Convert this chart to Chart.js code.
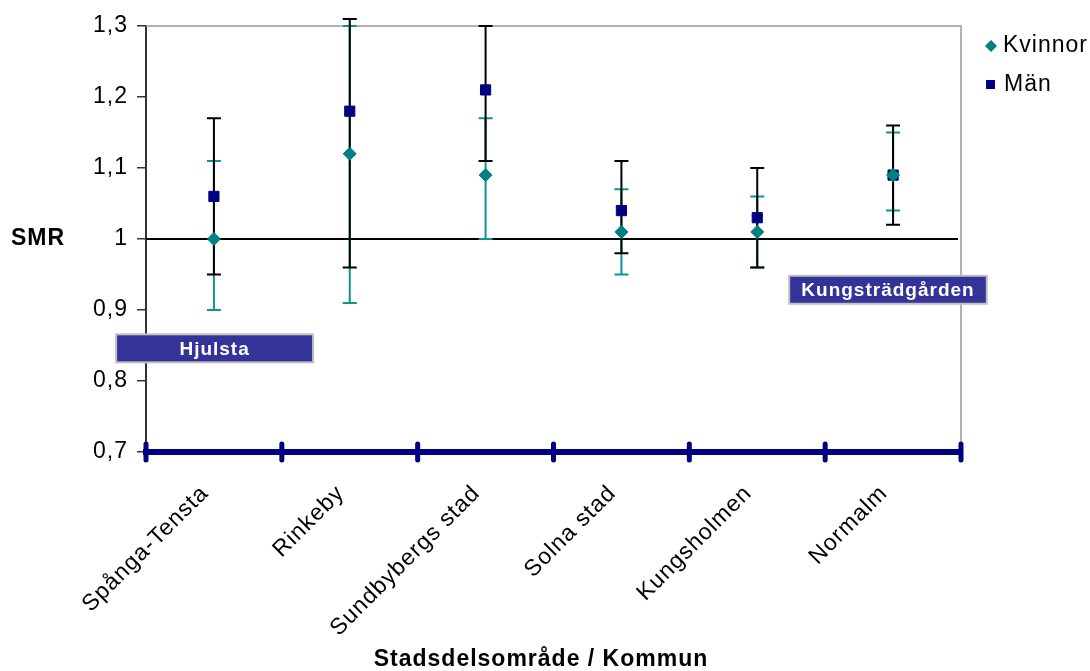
<!DOCTYPE html>
<html lang="sv">
<head>
<meta charset="UTF-8">
<style>
  html, body { margin: 0; padding: 0; background: #fff; }
</style>
</head>
<body>
<canvas id="smr-chart" width="1090" height="671"></canvas>
<script src="https://cdn.jsdelivr.net/npm/chart.js@4.4.0/dist/chart.umd.min.js"></script>
<script>
    // SMR per stadsdel / kommun, with confidence intervals
    const categories = ['Spånga-Tensta', 'Rinkeby', 'Sundbybergs stad', 'Solna stad', 'Kungsholmen', 'Normalm'];
    const kvinnor     = [1.00, 1.12, 1.09, 1.01, 1.01, 1.09];
    const kvinnorLow  = [0.90, 0.91, 1.00, 0.95, 0.96, 1.04];
    const kvinnorHigh = [1.11, 1.30, 1.17, 1.07, 1.06, 1.15];
    const man         = [1.06, 1.18, 1.21, 1.04, 1.03, 1.09];
    const manLow      = [0.95, 0.96, 1.11, 0.98, 0.96, 1.02];
    const manHigh     = [1.17, 1.31, 1.30, 1.11, 1.10, 1.16];
    const yTicks      = [0.7, 0.8, 0.9, 1.0, 1.1, 1.2, 1.3];

    const TEAL = '#008080';
    const TEAL_BAR = '#0c9494';
    const NAVY = '#000080';
    const FONT = '"Liberation Sans", Arial, sans-serif';
    const SPACING = '1px';

    Chart.defaults.font.family = FONT;
    Chart.defaults.font.size = 23;
    Chart.defaults.color = '#000';

    // excel-ish wide text
    const spacing = {
        id: 'spacing',
        beforeUpdate(chart) { chart.ctx.letterSpacing = SPACING; },
        beforeLayout(chart) { chart.ctx.letterSpacing = SPACING; },
        beforeDraw(chart) { chart.ctx.letterSpacing = SPACING; }
    };

    const errorBars = {
        id: 'errorBars',
        beforeDatasetsDraw(chart) {
            const {ctx, chartArea: a, scales: {x, y}} = chart;
            ctx.save();
            // grey frame top/right
            ctx.strokeStyle = '#999';
            ctx.lineWidth = 1.5;
            ctx.beginPath();
            ctx.moveTo(a.left, a.top); ctx.lineTo(a.right, a.top); ctx.lineTo(a.right, a.bottom);
            ctx.stroke();
            // reference line SMR = 1
            ctx.strokeStyle = '#000';
            ctx.lineWidth = 2;
            const y1 = y.getPixelForValue(1);
            ctx.beginPath();
            ctx.moveTo(a.left, y1); ctx.lineTo(a.right - 3, y1);
            ctx.stroke();

            function bars(low, high, color) {
                ctx.strokeStyle = color;
                ctx.lineWidth = 2;
                low.forEach((lo, i) => {
                    const px = x.getPixelForValue(i);
                    const pLo = y.getPixelForValue(lo);
                    const pHi = y.getPixelForValue(high[i]);
                    ctx.beginPath();
                    ctx.moveTo(px, pLo); ctx.lineTo(px, pHi);
                    ctx.moveTo(px - 7, pLo); ctx.lineTo(px + 7, pLo);
                    ctx.moveTo(px - 7, pHi); ctx.lineTo(px + 7, pHi);
                    ctx.stroke();
                });
            }
            bars(kvinnorLow, kvinnorHigh, TEAL_BAR);
            bars(manLow, manHigh, '#000');
            ctx.restore();
        },
        afterDraw(chart) {
            const {ctx, chartArea: a, scales: {x, y}} = chart;
            const cw = (a.right - a.left) / categories.length;
            ctx.save();
            ctx.letterSpacing = SPACING;

            // thick tick marks on the x axis
            ctx.strokeStyle = NAVY;
            ctx.lineWidth = 5;
            ctx.lineCap = 'round';
            for (let i = 0; i <= categories.length; i++) {
                const px = a.left + i * cw;
                ctx.beginPath();
                ctx.moveTo(px, a.bottom - 8); ctx.lineTo(px, a.bottom + 8);
                ctx.stroke();
            }

            // area labels
            const boxes = [
                {text: 'Hjulsta', from: -0.72, to: 0.73, at: 0.846},
                {text: 'Kungsträdgården', from: 4.235, to: 5.69, at: 0.9285}
            ];
            boxes.forEach(b => {
                const x0 = x.getPixelForValue(0) + b.from * cw;
                const x1 = x.getPixelForValue(0) + b.to * cw;
                const yc = y.getPixelForValue(b.at);
                ctx.fillStyle = '#333399';
                ctx.strokeStyle = '#c0c0c0';
                ctx.lineWidth = 2;
                ctx.fillRect(x0, yc - 14, x1 - x0, 28);
                ctx.strokeRect(x0, yc - 14, x1 - x0, 28);
                ctx.fillStyle = '#fff';
                ctx.font = 'bold 19px ' + FONT;
                ctx.textAlign = 'center';
                ctx.textBaseline = 'middle';
                ctx.fillText(b.text, (x0 + x1) / 2, yc + 1);
            });

            // axis titles
            ctx.fillStyle = '#000';
            ctx.font = 'bold 23px ' + FONT;
            ctx.textAlign = 'left';
            ctx.textBaseline = 'middle';
            ctx.fillText('SMR', 11, y.getPixelForValue(1));
            ctx.textAlign = 'center';
            ctx.fillText('Stadsdelsområde / Kommun', 541, 660);

            // legend
            ctx.textAlign = 'left';
            ctx.font = '23px ' + FONT;
            ctx.fillStyle = TEAL;
            ctx.beginPath();
            ctx.moveTo(991, 40); ctx.lineTo(997, 46); ctx.lineTo(991, 52); ctx.lineTo(985, 46);
            ctx.closePath();
            ctx.fill();
            ctx.fillStyle = '#000';
            ctx.fillText('Kvinnor', 1003, 46);
            ctx.fillStyle = NAVY;
            ctx.fillRect(986, 80, 9, 9);
            ctx.fillStyle = '#000';
            ctx.fillText('Män', 1004, 85);
            ctx.restore();
        }
    };

    new Chart(document.getElementById('smr-chart'), {
        type: 'line',
        data: {
            labels: categories,
            datasets: [
                {
                    label: 'Kvinnor',
                    data: kvinnor,
                    showLine: false,
                    pointStyle: 'rectRot',
                    pointRadius: 6.5,
                    pointBackgroundColor: TEAL,
                    pointBorderColor: TEAL,
                    pointBorderWidth: 1,
                    clip: false
                },
                {
                    label: 'Män',
                    data: man,
                    showLine: false,
                    pointStyle: 'rect',
                    pointRadius: 7.2,
                    pointBackgroundColor: NAVY,
                    pointBorderColor: NAVY,
                    pointBorderWidth: 1,
                    clip: false
                }
            ]
        },
        options: {
            responsive: false,
            animation: false,
            events: [],
            layout: { padding: { left: 90, right: 129, top: 26, bottom: 0 } },
            plugins: {
                legend: { display: false },
                tooltip: { enabled: false }
            },
            scales: {
                x: {
                    offset: true,
                    grid: { display: true, drawOnChartArea: false, drawTicks: false },
                    border: { color: NAVY, width: 6 },
                    ticks: {
                        autoSkip: false,
                        minRotation: 45,
                        maxRotation: 45,
                        padding: 28,
                        labelOffset: -9
                    },
                    afterFit(s) { s.height = 219; s.paddingLeft = 0; s.paddingRight = 0; }
                },
                y: {
                    min: 0.7,
                    max: 1.3,
                    grid: { drawOnChartArea: false, drawTicks: true, tickLength: 9, color: '#333', lineWidth: 1.5 },
                    border: { color: '#333', width: 2 },
                    ticks: {
                        padding: 9,
                        callback: v => String(Number(v.toFixed(1))).replace('.', ',')
                    },
                    afterBuildTicks(s) { s.ticks = yTicks.map(v => ({value: v})); },
                    afterFit(s) { s.width = 56; s.paddingTop = 0; s.paddingBottom = 0; }
                }
            }
        },
        plugins: [spacing, errorBars]
    });
</script>
</body>
</html>
